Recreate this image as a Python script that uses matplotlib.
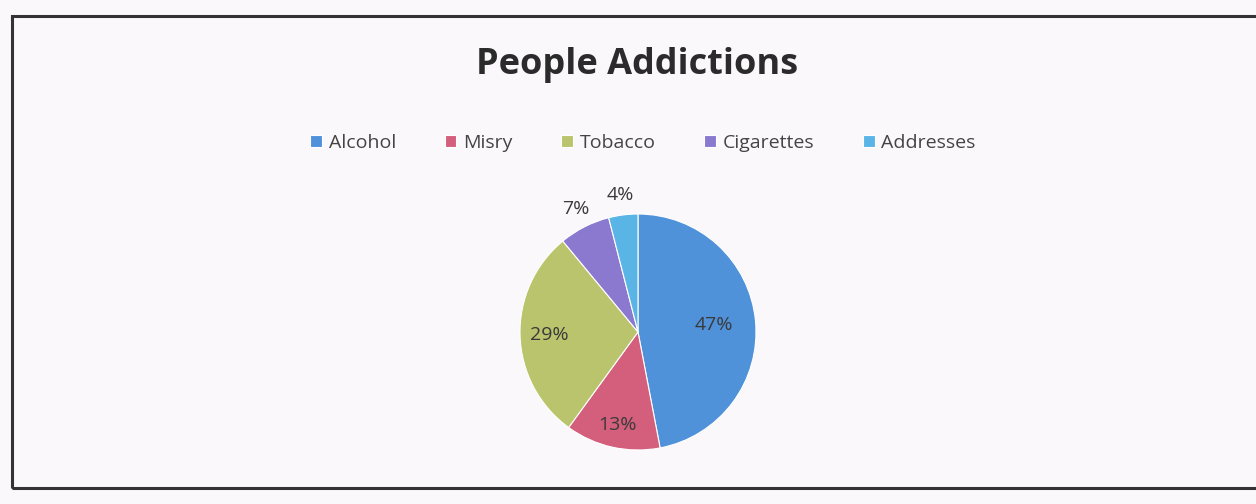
import matplotlib
matplotlib.use("Agg")
import matplotlib.pyplot as plt
import numpy as np
from matplotlib.patches import Rectangle

categories = ["Alcohol", "Misry", "Tobacco", "Cigarettes", "Addresses"]
values = [47, 13, 29, 7, 4]
colors = ["#4f92da", "#d35f7c", "#b9c46c", "#8b78cf", "#5ab4e6"]
# radial position of each percentage label (1 = rim)
label_dist = [0.65, 0.81, 0.75, 1.17, 1.17]

plt.rcParams['font.family'] = ['Open Sans', 'DejaVu Sans']

fig = plt.figure(figsize=(12.56, 5.04), dpi=100)
fig.patch.set_facecolor("#fbf8fb")

W, H = 1256, 504

# chart frame
fig.patches.append(Rectangle((12 / W, 1 - 488 / H), 1.0, (488 - 16) / H,
                             transform=fig.transFigure, fill=False,
                             edgecolor="#333333", linewidth=2.2))

fig.text(637 / W, 1 - 74 / H, "People Addictions", ha="center", va="baseline",
         fontsize=26, fontweight="bold", color="#2b2b2b")

# pie axes: centre (638, 332), radius 118 px
r = 118
ax = fig.add_axes([(638 - r) / W, 1 - (332 + r) / H, 2 * r / W, 2 * r / H])
wedges, _ = ax.pie(values, colors=colors, startangle=90, counterclock=False,
                   wedgeprops=dict(edgecolor="white", linewidth=0.8))
ax.set_xlim(-1, 1)
ax.set_ylim(-1, 1)
ax.set_aspect("equal")

for w, v, d in zip(wedges, values, label_dist):
    ang = np.deg2rad((w.theta1 + w.theta2) / 2)
    ax.text(d * np.cos(ang), d * np.sin(ang), f"{v}%", ha="center", va="center",
            fontsize=14, color="#3a3a3a", clip_on=False)

fig.legend(wedges, categories, loc="center", bbox_to_anchor=(643 / W, 1 - 143 / H),
           ncol=5, frameon=False, fontsize=14, handlelength=0.6, handleheight=0.6,
           handletextpad=0.35, columnspacing=2.5, labelcolor="#444444")

fig.savefig("out.png", dpi=100, facecolor=fig.get_facecolor())
